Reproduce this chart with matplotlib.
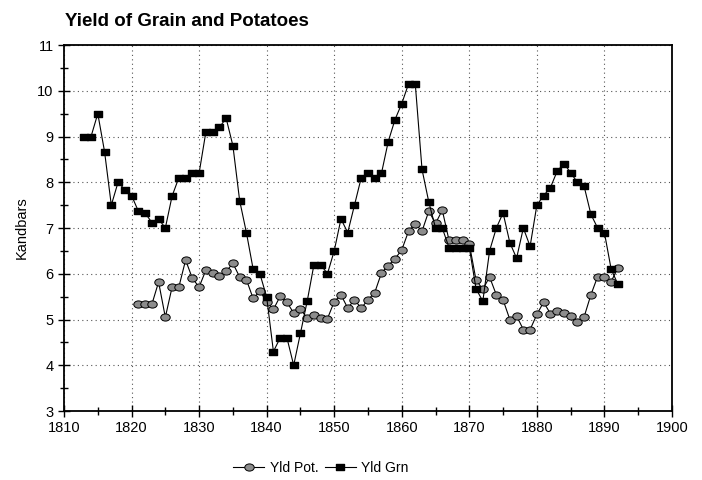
import numpy as np
import matplotlib
matplotlib.use('Agg')
import matplotlib.pyplot as plt
from matplotlib.ticker import MultipleLocator
from matplotlib.path import Path
from matplotlib.transforms import Affine2D

plt.rcParams['font.family'] = ['Liberation Sans', 'DejaVu Sans']

# grain yield, 1813-1892
grn_years = list(range(1813, 1893))
grn = [9.0, 9.0, 9.5, 8.67, 7.5, 8.0, 7.84, 7.71, 7.37, 7.33,
       7.12, 7.2, 7.0, 7.7, 8.1, 8.1, 8.2, 8.2, 9.1, 9.1,
       9.2, 9.4, 8.8, 7.6, 6.9, 6.1, 6.0, 5.49, 4.3, 4.6,
       4.6, 4.0, 4.7, 5.4, 6.2, 6.2, 6.0, 6.5, 7.2, 6.9,
       7.5, 8.1, 8.2, 8.1, 8.2, 8.89, 9.37, 9.72, 10.15, 10.15,
       8.28, 7.57, 7.0, 7.0, 6.57, 6.57, 6.57, 6.57, 5.67, 5.4,
       6.5, 7.0, 7.33, 6.68, 6.34, 7.0, 6.6, 7.5, 7.71, 7.88,
       8.24, 8.41, 8.21, 8.0, 7.91, 7.3, 7.0, 6.9, 6.1, 5.77]

# potato yield, 1821-1892
pot_years = list(range(1821, 1893))
pot = [5.33, 5.33, 5.33, 5.82, 5.05, 5.71, 5.71, 6.3, 5.9, 5.71,
       6.08, 6.02, 5.96, 6.05, 6.23, 5.93, 5.87, 5.46, 5.62, 5.39,
       5.22, 5.51, 5.38, 5.14, 5.22, 5.04, 5.09, 5.04, 5.02, 5.39,
       5.54, 5.25, 5.43, 5.25, 5.43, 5.59, 6.02, 6.18, 6.33, 6.52,
       6.93, 7.09, 6.93, 7.37, 7.1, 7.39, 6.73, 6.73, 6.73, 6.65,
       5.86, 5.66, 5.93, 5.54, 5.43, 5.0, 5.08, 4.78, 4.78, 5.11,
       5.38, 5.13, 5.19, 5.15, 5.08, 4.95, 5.06, 5.54, 5.94, 5.94,
       5.83, 6.13]

# flattened markers: ellipse and wide rectangle
squash = Affine2D().scale(1.0, 0.76)
ellipse = Path.unit_circle().transformed(squash)
rect = Path([(-1, -1), (1, -1), (1, 1), (-1, 1), (-1, -1)],
            [Path.MOVETO, Path.LINETO, Path.LINETO, Path.LINETO, Path.CLOSEPOLY]).transformed(squash)

fig = plt.figure(figsize=(7.02, 4.8), dpi=100)
ax = fig.add_axes([0.0912, 0.1437, 0.866, 0.7625])

ax.plot(pot_years, pot, color='black', lw=0.8, marker=ellipse, ms=6.8,
        mfc='#8c8c8c', mec='black', mew=0.7, label='Yld Pot.')
ax.plot(grn_years, grn, color='black', lw=0.8, marker=rect, ms=6.3,
        mfc='black', mec='black', label='Yld Grn')

ax.set_xlim(1810, 1900)
ax.set_ylim(3, 11)
ax.xaxis.set_major_locator(MultipleLocator(10))
ax.xaxis.set_minor_locator(MultipleLocator(5))
ax.yaxis.set_major_locator(MultipleLocator(1))
ax.yaxis.set_minor_locator(MultipleLocator(0.5))
ax.tick_params(which='major', direction='inout', length=8, width=1, labelsize=10.5)
ax.tick_params(which='minor', direction='inout', length=6, width=1)
ax.grid(True, which='major', linestyle=(0, (1, 3)), color='#555555', lw=0.8)
for s in ax.spines.values():
    s.set_linewidth(1.3)

ax.set_ylabel('Kandbars', fontsize=10.5, labelpad=6)
fig.text(0.093, 0.955, 'Yield of Grain and Potatoes', fontsize=13.5,
         fontweight='bold', ha='left', va='center')

fig.legend(*ax.get_legend_handles_labels(), loc='center', ncol=2,
           bbox_to_anchor=(321 / 702, 1 - 468 / 480), frameon=False,
           fontsize=10, handlelength=2.2, columnspacing=0.5, handletextpad=0.4)

fig.savefig('out.png', dpi=100)
